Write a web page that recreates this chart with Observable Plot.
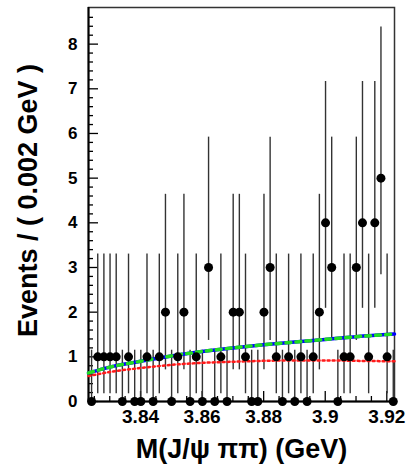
<!DOCTYPE html>
<html>
<head>
<meta charset="utf-8">
<script src="https://cdn.jsdelivr.net/npm/d3@7"></script>
<script src="https://cdn.jsdelivr.net/npm/@observablehq/plot@0.6"></script>
<style>
  html, body { margin: 0; padding: 0; background: #fff; }
  #chart svg { display: block; }
</style>
</head>
<body>
<div id="chart"></div>
<script>
// Binned J/psi pi pi invariant mass, 0.002 GeV bins starting at 3.8241 GeV (bin centres)
const firstBinCenter = 3.8241;
const binWidth = 0.002;
const counts = [0, 1, 1, 1, 1, 0, 1, 0, 0, 1,
                0, 1, 2, 0, 1, 2, 0, 1, 0, 3,
                0, 1, 0, 2, 2, 1, 0, 0, 2, 3,
                1, 0, 1, 0, 1, 0, 1, 2, 4, 3,
                0, 1, 1, 3, 4, 1, 4, 5, 1, 0];

// Poisson 68% interval bounds, indexed by the observed count
const poissonLow  = [0, 0.173, 0.708, 1.367, 2.086, 2.840];
const poissonHigh = [1.148, 3.300, 4.638, 5.918, 7.163, 8.382];

// Fitted curves: total (signal + background) and background only
const fitMass  = [3.8231, 3.83, 3.84, 3.85, 3.86, 3.87, 3.88, 3.89, 3.90, 3.91, 3.9225];
const fitTotal = [0.64, 0.77, 0.90, 1.02, 1.12, 1.20, 1.27, 1.33, 1.39, 1.45, 1.51];
const fitBkg   = [0.57, 0.66, 0.75, 0.82, 0.865, 0.89, 0.91, 0.92, 0.92, 0.91, 0.90];

// Axis ticks
const xMajor = [3.84, 3.86, 3.88, 3.9, 3.92];
const xMinor = [3.825, 3.83, 3.835, 3.845, 3.85, 3.855, 3.865, 3.87, 3.875,
                3.885, 3.89, 3.895, 3.905, 3.91, 3.915];
const yMajor = [0, 1, 2, 3, 4, 5, 6, 7, 8];
const yMinor = [0.2, 0.4, 0.6, 0.8, 1.2, 1.4, 1.6, 1.8, 2.2, 2.4, 2.6, 2.8,
                3.2, 3.4, 3.6, 3.8, 4.2, 4.4, 4.6, 4.8, 5.2, 5.4, 5.6, 5.8,
                6.2, 6.4, 6.6, 6.8, 7.2, 7.4, 7.6, 7.8, 8.2, 8.4, 8.6];

const xTitle = "M(J/\u03C8 \u03C0\u03C0) (GeV)";
const yTitle = "Events / ( 0.002 GeV )";

const bins = counts.map((n, i) => ({
  mass: firstBinCenter + i * binWidth,
  n,
  lo: poissonLow[n],
  hi: poissonHigh[n]
}));
const totalCurve = fitMass.map((m, i) => ({mass: m, v: fitTotal[i]}));
const bkgCurve = fitMass.map((m, i) => ({mass: m, v: fitBkg[i]}));

const W = 411, H = 465;
const mL = 88, mR = 17, mT = 7, mB = 64;
const innerW = W - mL - mR, innerH = H - mT - mB;
const font = "'Liberation Sans', Arial, Helvetica, sans-serif";

const chart = Plot.plot({
  width: W,
  height: H,
  marginLeft: mL,
  marginRight: mR,
  marginTop: mT,
  marginBottom: mB,
  style: {fontFamily: font, fontWeight: "bold", color: "#000", background: "#fff"},
  x: {domain: [3.8231, 3.9225]},
  y: {domain: [0, 8.82]},
  marks: [
    Plot.frame({stroke: "#333", strokeWidth: 1.5}),
    // inward major/minor ticks
    Plot.ruleX(xMajor, {x: d => d, insetTop: innerH - 10, stroke: "#000", strokeWidth: 1.3}),
    Plot.ruleX(xMinor, {x: d => d, insetTop: innerH - 5, stroke: "#000", strokeWidth: 1.3}),
    Plot.ruleY(yMajor, {y: d => d, insetRight: innerW - 10, stroke: "#000", strokeWidth: 1.3}),
    Plot.ruleY(yMinor, {y: d => d, insetRight: innerW - 5, stroke: "#000", strokeWidth: 1.3}),
    Plot.ruleX([3.8231], {stroke: "#000", strokeWidth: 2}),
    Plot.ruleY([0], {stroke: "#000", strokeWidth: 2}),
    Plot.axisX({ticks: xMajor, tickSize: 0, tickPadding: 8, fontSize: 19, fontWeight: "bold",
                tickFormat: d => String(+d.toFixed(2)), label: null}),
    Plot.axisY({ticks: yMajor, tickSize: 0, tickPadding: 11, fontSize: 17, fontWeight: "bold",
                tickFormat: d => String(d), label: null}),
    // error bars and data points
    Plot.ruleX(bins, {x: "mass", y1: "lo", y2: "hi", stroke: "#333", strokeWidth: 1.4}),
    // background (dotted red)
    Plot.line(bkgCurve, {x: "mass", y: "v", stroke: "#ff1a1a", strokeWidth: 2.5,
                         strokeDasharray: "2,3", curve: "monotone-x"}),
    // total fit (blue with green dashes)
    Plot.line(totalCurve, {x: "mass", y: "v", stroke: "#0000ff", strokeWidth: 3.5, curve: "monotone-x"}),
    Plot.line(totalCurve, {x: "mass", y: "v", stroke: "#22dd22", strokeWidth: 3.5,
                           strokeDasharray: "5,5", curve: "monotone-x"}),
    Plot.dot(bins, {x: "mass", y: "n", r: 4.5, fill: "#000", stroke: "none"}),
    // axis titles
    Plot.text([xTitle], {frameAnchor: "bottom", textAnchor: "middle", lineAnchor: "middle",
                         dy: 48, fontSize: 27, fontWeight: "bold", fill: "#000"}),
    Plot.text([yTitle], {frameAnchor: "left", textAnchor: "middle", lineAnchor: "middle",
                         dx: -60, dy: -4, rotate: -90, fontSize: 27,
                         fontWeight: "bold", fill: "#000"})
  ]
});

document.getElementById("chart").appendChild(chart);
</script>
</body>
</html>
